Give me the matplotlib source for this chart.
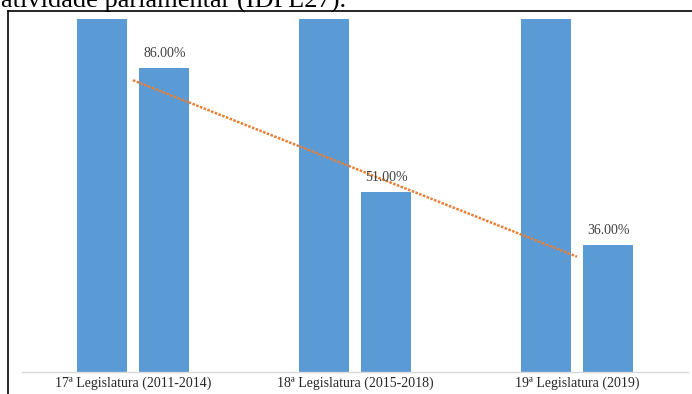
import matplotlib.pyplot as plt
import numpy as np
from matplotlib.lines import Line2D

# legislaturas e valores (%)
legislaturas = ["17ª Legislatura (2011-2014)", "18ª Legislatura (2015-2018)", "19ª Legislatura (2019)"]
serie_total = [100, 100, 100]
serie_idpl = [86, 51, 36]
rotulos_idpl = ["86.00%", "51.00%", "36.00%"]

azul = "#5b9bd5"
laranja = "#ed7d31"
plt.rcParams['font.family'] = ['Liberation Serif', 'DejaVu Serif']

W, H = 692, 394
fig = plt.figure(figsize=(W / 100, H / 100), dpi=100)
ax = fig.add_axes([22 / W, (H - 372) / H, (688 - 22) / W, (372 - 19) / H])

x = np.arange(len(legislaturas))
larg = 0.225
desl = 0.1416
ax.bar(x - desl, serie_total, larg, color=azul)
barras = ax.bar(x + desl, serie_idpl, larg, color=azul)
for b, r in zip(barras, rotulos_idpl):
    ax.text(b.get_x() + b.get_width() / 2, b.get_height() + 2.3, r,
            ha="center", va="bottom", fontsize=10, color="#404040")

# linha de tendência linear da segunda série
coef = np.polyfit(x, serie_idpl, 1)
ax.plot(x[[0, -1]], np.polyval(coef, x[[0, -1]]), color=laranja, lw=1.8, ls=(0, (1, 0.6)))

ax.set_xlim(-0.5, len(legislaturas) - 0.5)
ax.set_ylim(0, 100)
ax.set_xticks(x)
ax.set_xticklabels(legislaturas, fontsize=10, color="#262626")
ax.tick_params(axis="x", length=0, pad=3)
ax.set_yticks([])
for s in ["top", "right", "left"]:
    ax.spines[s].set_visible(False)
ax.spines["bottom"].set_color("#d9d9d9")
ax.spines["bottom"].set_linewidth(1)

# moldura do gráfico e texto do parágrafo acima (cortado no topo)
fig.add_artist(Line2D([8 / W, 1], [1 - 11 / H, 1 - 11 / H], color="black", lw=1.2))
fig.add_artist(Line2D([8 / W, 8 / W], [0, 1 - 11 / H], color="black", lw=1.2))
fig.text(1 / W, 1 - 8 / H, "atividade parlamentar (IDPL27).", fontsize=19,
         ha="left", va="baseline", color="black")

fig.savefig("out.png", dpi=100)
